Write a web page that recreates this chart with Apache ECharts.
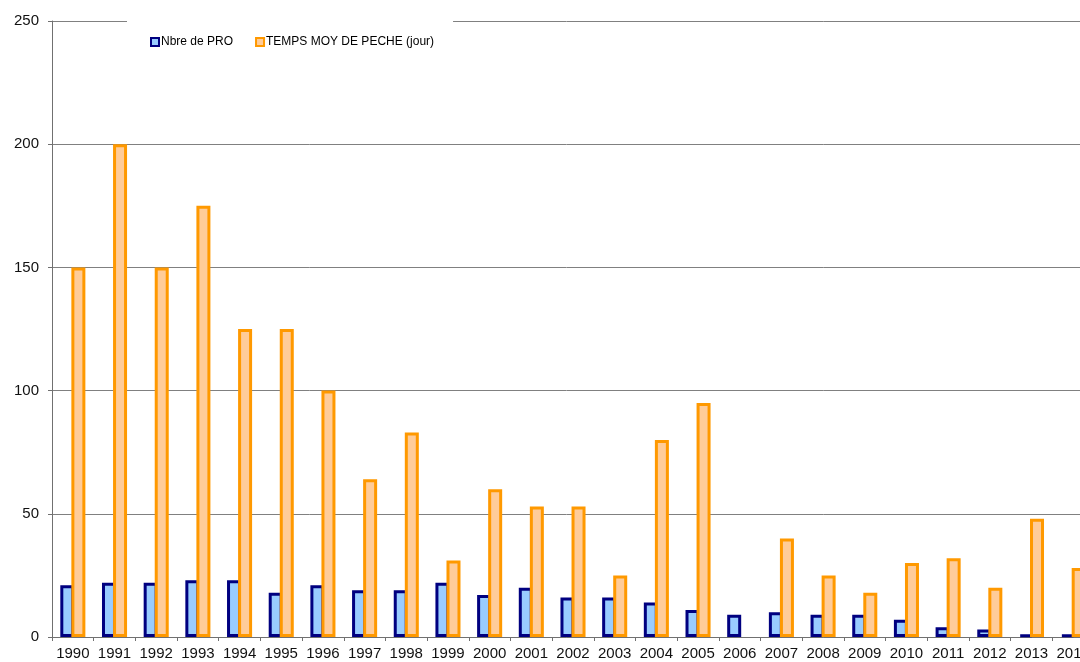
<!DOCTYPE html>
<html>
<head>
<meta charset="utf-8">
<style>
  html, body { margin: 0; padding: 0; background: #ffffff; }
  #chart { width: 1080px; height: 662px; }
</style>
<script src="https://cdn.jsdelivr.net/npm/echarts@6/dist/echarts.min.js"></script>
</head>
<body>
<div id="chart"></div>
<script>
// Years on the category axis
const years = ['1990','1991','1992','1993','1994','1995','1996','1997','1998','1999',
               '2000','2001','2002','2003','2004','2005','2006','2007','2008','2009',
               '2010','2011','2012','2013','2014'];

// Number of professional fishermen per year
const nbrePro = [21, 22, 22, 23, 23, 18, 21, 19, 19, 22,
                 17, 20, 16, 16, 14, 11, 9, 10, 9, 9,
                 7, 4, 3, 1, 1];

// Average fishing time (days) per year; no value for 2006
const tempsMoy = [150, 200, 150, 175, 125, 125, 100, 64, 83, 31,
                  60, 53, 53, 25, 80, 95, null, 40, 25, 18,
                  30, 32, 20, 48, 28];

// Value axis ticks
const yTicks = [0, 50, 100, 150, 200, 250];

const chart = echarts.init(document.getElementById('chart'), null, { renderer: 'canvas' });

const font = '"Liberation Sans", Arial, sans-serif';

chart.setOption({
  animation: false,
  backgroundColor: '#ffffff',
  textStyle: { fontFamily: font },
  legend: {
    left: 127,
    top: 12,
    padding: [24, 19, 12, 23],
    backgroundColor: '#ffffff',
    itemWidth: 8,
    itemHeight: 8,
    itemGap: 22,
    icon: 'rect',
    textStyle: { fontFamily: font, fontSize: 12, color: '#000000', padding: [0, 0, 0, -3] },
    data: ['Nbre de PRO', 'TEMPS MOY DE PECHE (jour)']
  },
  grid: {
    left: 52,
    top: 21,
    width: 1042,
    bottom: 25,
    outerBoundsMode: 'none',
    containLabel: false
  },
  xAxis: {
    type: 'category',
    data: years,
    boundaryGap: true,
    axisLine: { show: true, lineStyle: { color: '#707070', width: 1 } },
    axisTick: { show: true, length: 4, inside: false, lineStyle: { color: '#707070' } },
    axisLabel: { fontFamily: font, fontSize: 15, color: '#111111', margin: 9, interval: 0 },
    splitLine: { show: false }
  },
  yAxis: {
    type: 'value',
    min: yTicks[0],
    max: yTicks[yTicks.length - 1],
    interval: yTicks[1] - yTicks[0],
    axisLine: { show: true, lineStyle: { color: '#707070', width: 1 } },
    axisTick: { show: true, length: 4, inside: false, lineStyle: { color: '#707070' } },
    axisLabel: { fontFamily: font, fontSize: 15, color: '#111111', margin: 13 },
    splitLine: { show: true, lineStyle: { color: '#808080', width: 1 } }
  },
  series: [
    {
      name: 'Nbre de PRO',
      type: 'bar',
      data: nbrePro,
      barWidth: 14,
      barGap: '-21%',
      itemStyle: { color: '#99CCFF', borderColor: '#000080', borderWidth: 3 },
      emphasis: { disabled: true }
    },
    {
      name: 'TEMPS MOY DE PECHE (jour)',
      type: 'bar',
      data: tempsMoy,
      barWidth: 14,
      barGap: '-21%',
      itemStyle: { color: '#FFCC99', borderColor: '#FF9900', borderWidth: 3 },
      emphasis: { disabled: true }
    }
  ]
});
</script>
</body>
</html>
